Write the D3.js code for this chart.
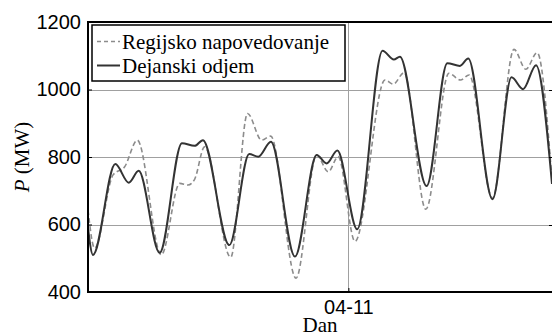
<!DOCTYPE html>
<html>
<head>
<meta charset="utf-8">
<script src="https://cdn.jsdelivr.net/npm/d3@7"></script>
<style>
  html, body { margin: 0; padding: 0; background: #fff; }
  svg { display: block; }
</style>
</head>
<body>
<svg id="chart" width="552" height="336"></svg>
<script>
// Hours counted from 04-07 00:00, with power in MW.
const actualHours = [1.5, 3.3, 11.4, 16.3, 19.9, 27.5, 35.6, 40.2, 43.2, 52.8, 60.0, 63.3, 67.9, 76.6, 84.5, 88.1, 92.0, 99.2, 108.4, 112.5, 114.7, 124.4, 131.9, 136.5, 139.5, 148.3, 155.2, 159.4, 164.1, 169.9];
const actualMW    = [590, 510, 779, 724, 759, 516, 841, 833, 850, 539, 809, 801, 845, 505, 806, 781, 819, 586, 1115, 1089, 1097, 714, 1078, 1070, 1092, 675, 1036, 1001, 1072, 720];

const forecastHours = [1.5, 3.9, 10.6, 14.8, 19.4, 28.1, 34.8, 37.8, 40.2, 43.8, 53.3, 59.4, 64.5, 67.8, 77.0, 84.5, 88.7, 92.3, 98.4, 109.3, 112.3, 116.2, 124.1, 132.5, 136.7, 139.8, 148.3, 156.1, 160.4, 164.5, 169.9];
const forecastMW    = [643, 530, 747, 771, 850, 510, 722, 717, 734, 830, 503, 929, 850, 862, 441, 806, 756, 801, 550, 1028, 1016, 1050, 645, 1048, 1028, 1043, 678, 1119, 1060, 1109, 730];

const yTicks = [400, 600, 800, 1000, 1200];
const xTickHours = [96];
const xTickLabels = ["04-11"];

const legendLabels = ["Regijsko napovedovanje", "Dejanski odjem"];

const base = new Date(2014, 3, 7, 0, 0, 0);
const toDate = h => new Date(base.getTime() + h * 3600 * 1000);

const margin = { left: 88, top: 22, right: 552, bottom: 292 };
const sansFont = "'Liberation Sans', Arial, sans-serif";
const serifFont = "'Liberation Serif', 'Times New Roman', serif";

const svg = d3.select("#chart");

const x = d3.scaleTime()
  .domain([toDate(1.5), toDate(169.9)])
  .range([margin.left, margin.right]);

const y = d3.scaleLinear()
  .domain([400, 1200])
  .range([margin.bottom, margin.top]);

svg.append("defs").append("clipPath").attr("id", "plotClip")
  .append("rect")
  .attr("x", margin.left).attr("y", margin.top)
  .attr("width", margin.right - margin.left)
  .attr("height", margin.bottom - margin.top);

// Grid lines
const grid = svg.append("g").attr("stroke", "#a0a0a0").attr("stroke-width", 1);
grid.selectAll("line.h")
  .data(yTicks.filter(v => v > 400 && v < 1200))
  .join("line")
  .attr("x1", margin.left).attr("x2", margin.right)
  .attr("y1", d => Math.round(y(d)) + 0.5).attr("y2", d => Math.round(y(d)) + 0.5);
grid.selectAll("line.v")
  .data(xTickHours)
  .join("line")
  .attr("x1", d => Math.round(x(toDate(d))) + 0.5).attr("x2", d => Math.round(x(toDate(d))) + 0.5)
  .attr("y1", margin.top).attr("y2", margin.bottom);

// Series
const line = d3.line()
  .x(d => x(toDate(d[0])))
  .y(d => y(d[1]))
  .curve(d3.curveMonotoneX);

const plot = svg.append("g").attr("clip-path", "url(#plotClip)");

plot.append("path")
  .datum(d3.zip(forecastHours, forecastMW))
  .attr("fill", "none")
  .attr("stroke", "#8c8c8c")
  .attr("stroke-width", 1.6)
  .attr("stroke-dasharray", "5,3")
  .attr("d", line);

plot.append("path")
  .datum(d3.zip(actualHours, actualMW))
  .attr("fill", "none")
  .attr("stroke", "#333333")
  .attr("stroke-width", 2)
  .attr("d", line);

// Axes
const yAxis = d3.axisLeft(y).tickValues(yTicks).tickFormat(d3.format("d"))
  .tickSizeInner(-4).tickSizeOuter(0).tickPadding(7);
const yg = svg.append("g").attr("transform", `translate(${margin.left},0)`).call(yAxis);
yg.attr("font-family", sansFont).attr("font-size", 20);
yg.select(".domain").remove();
yg.selectAll("text").attr("fill", "#000");
yg.selectAll("line").attr("stroke", "#000");

const xAxis = d3.axisBottom(x)
  .tickValues(xTickHours.map(toDate))
  .tickFormat((d, i) => xTickLabels[i])
  .tickSizeInner(-4).tickSizeOuter(0).tickPadding(8);
const xg = svg.append("g").attr("transform", `translate(0,${margin.bottom})`).call(xAxis);
xg.attr("font-family", sansFont).attr("font-size", 20);
xg.select(".domain").remove();
xg.selectAll("text").attr("fill", "#000");
xg.selectAll("line").attr("stroke", "#000");

// Frame
const frame = svg.append("g").attr("stroke", "#000").attr("stroke-width", 2).attr("fill", "none");
frame.append("line").attr("x1", margin.left).attr("x2", margin.left).attr("y1", margin.top - 1).attr("y2", margin.bottom + 1);
frame.append("line").attr("x1", margin.left).attr("x2", margin.right).attr("y1", margin.bottom).attr("y2", margin.bottom);
frame.append("line").attr("x1", margin.left).attr("x2", margin.right).attr("y1", margin.top).attr("y2", margin.top);

// Right-side inner ticks
svg.append("g").selectAll("line")
  .data(yTicks.filter(v => v > 400 && v < 1200))
  .join("line")
  .attr("x1", margin.right - 3).attr("x2", margin.right)
  .attr("y1", d => Math.round(y(d)) + 0.5).attr("y2", d => Math.round(y(d)) + 0.5)
  .attr("stroke", "#000");

// Axis titles
svg.append("text")
  .attr("x", (margin.left + margin.right) / 2)
  .attr("y", 332)
  .attr("text-anchor", "middle")
  .style("font-family", serifFont)
  .attr("font-size", 21)
  .text("Dan");

const yTitle = svg.append("text")
  .attr("transform", `translate(29,${(margin.top + margin.bottom) / 2}) rotate(-90)`)
  .attr("text-anchor", "middle")
  .style("font-family", serifFont)
  .attr("font-size", 21);
yTitle.append("tspan").attr("font-style", "italic").text("P");
yTitle.append("tspan").text(" (MW)");

// Legend
const legend = svg.append("g");
legend.append("rect")
  .attr("x", 92).attr("y", 25).attr("width", 253).attr("height", 56)
  .attr("fill", "#fff").attr("stroke", "#000").attr("stroke-width", 1.5);

const legendStyles = [
  { stroke: "#8c8c8c", dash: "4,3", width: 1.6 },
  { stroke: "#333333", dash: null, width: 2 }
];
legendLabels.forEach((label, i) => {
  const cy = 41.5 + i * 24;
  legend.append("line")
    .attr("x1", 97).attr("x2", 120).attr("y1", cy).attr("y2", cy)
    .attr("stroke", legendStyles[i].stroke)
    .attr("stroke-width", legendStyles[i].width)
    .attr("stroke-dasharray", legendStyles[i].dash);
  legend.append("text")
    .attr("x", 122).attr("y", cy + 7.5)
    .style("font-family", serifFont)
    .attr("font-size", 21)
    .text(label);
});
</script>
</body>
</html>
